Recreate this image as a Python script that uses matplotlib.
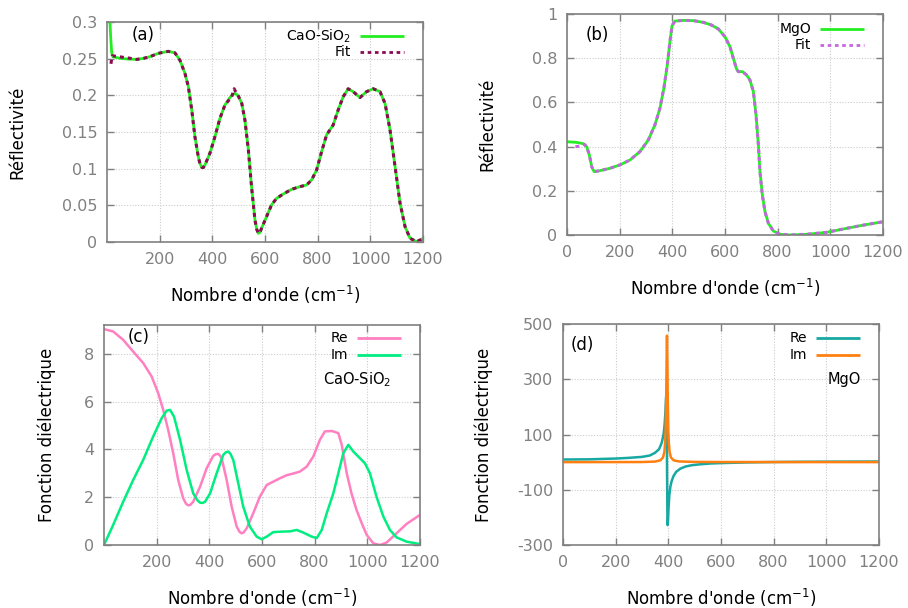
import numpy as np
import matplotlib.pyplot as plt

# (a) CaO-SiO2 reflectivity + fit
a_x = [10, 14, 18, 22, 49, 80, 113, 140, 163, 195, 233, 258, 277, 296, 309, 322, 334, 347, 353, 360, 366, 372,
       391, 410, 429, 448, 467, 476, 486, 492, 499, 512, 524, 537, 549, 562, 569, 575, 581, 587, 606, 625, 644, 670, 701, 733,
       758, 777, 796, 815, 834, 859, 878, 897, 916, 935, 961, 986, 1011, 1037, 1056, 1075, 1094, 1113, 1132, 1151,
       1176, 1195, 1200]
a_r = [0.31, 0.28, 0.258, 0.2527, 0.2505, 0.2495, 0.249, 0.2505, 0.2527, 0.2573, 0.260, 0.258, 0.248, 0.230, 0.212, 0.180, 0.1436, 0.116, 0.107, 0.1018, 0.1015, 0.105,
       0.121, 0.1436, 0.1686, 0.1868, 0.197, 0.2005, 0.2027, 0.2015, 0.199, 0.189, 0.166, 0.1255, 0.0755, 0.030, 0.017, 0.0118, 0.013, 0.0186, 0.0345, 0.0505, 0.0595, 0.0655, 0.0718, 0.0755,
       0.0777, 0.0845, 0.098, 0.123, 0.146, 0.1595, 0.180, 0.198, 0.209, 0.205, 0.197, 0.205, 0.209, 0.205, 0.189, 0.153, 0.103, 0.053, 0.021, 0.005,
       0.0005, 0.0036, 0.005]
a_fit_x = [15, 20, 30, 49, 80, 113, 140, 163, 195, 233, 258, 277, 296, 309, 322, 334, 347, 353, 360, 366, 372, 391,
           410, 429, 448, 462, 472, 478, 483, 490, 499, 512, 524, 537, 549, 562, 569, 575, 581, 587, 606, 625, 644, 670,
           701, 733, 758, 777, 796, 815, 834, 859, 878, 897, 916, 935, 961, 986, 1011, 1037, 1056, 1075, 1094, 1113,
           1132, 1151, 1176, 1195, 1200]
a_fit = [0.243, 0.254, 0.2535, 0.2525, 0.251, 0.249, 0.2505, 0.2527, 0.2573, 0.260, 0.258, 0.248, 0.230, 0.212, 0.180, 0.1436, 0.116, 0.107, 0.1018, 0.1015, 0.105, 0.121,
         0.1436, 0.1686, 0.1868, 0.193, 0.196, 0.203, 0.209, 0.204, 0.199, 0.189, 0.166, 0.1255, 0.0755, 0.030, 0.017, 0.0118, 0.013, 0.0186, 0.0345, 0.0505, 0.0595, 0.0655,
         0.0718, 0.0755, 0.0777, 0.0845, 0.098, 0.123, 0.146, 0.1595, 0.180, 0.198, 0.209, 0.205, 0.197, 0.205, 0.209, 0.205, 0.189, 0.153, 0.103, 0.053,
         0.021, 0.005, 0.0005, 0.0036, 0.005]

# (b) MgO reflectivity + fit
b_x = [0, 37, 62, 75, 85, 94, 103, 125, 163, 201, 239, 277, 309, 334, 353, 368, 381, 391, 399, 410,
       442, 480, 518, 549, 575, 600, 619, 632, 644, 651, 667, 682, 695, 708, 718, 727, 733, 742, 752, 765,
       784, 809, 847, 910, 986, 1049, 1113, 1200]
b_r = [0.422, 0.419, 0.413, 0.40, 0.362, 0.309, 0.2866, 0.291, 0.3017, 0.317, 0.339, 0.377, 0.43, 0.498, 0.573, 0.664, 0.769, 0.875, 0.947, 0.968,
       0.971, 0.97, 0.962, 0.950, 0.932, 0.897, 0.852, 0.799, 0.751, 0.739, 0.739, 0.724, 0.701, 0.649, 0.543, 0.407, 0.2866, 0.181, 0.1056, 0.0528,
       0.018, 0.003, 0.0, 0.003, 0.012, 0.027, 0.042, 0.060]
b_fit_x = [32, 45, 56, 66] + b_x[3:]
b_fit = [0.40, 0.401, 0.403, 0.41] + b_r[3:]

# (c) CaO-SiO2 dielectric function
c_x_re = [0, 35, 73, 111, 149, 181, 206, 225, 244, 263, 282, 301, 312, 320, 328, 339, 365, 390, 415, 425, 434, 440, 447, 466,
          485, 504, 515, 523, 530, 542, 567, 592, 618, 643, 668, 694, 719, 744, 770, 795, 820, 839, 865, 890, 903, 922,
          940, 959, 979, 998, 1023, 1048, 1073, 1111, 1149, 1200]
c_re = [9.03, 8.93, 8.58, 8.09, 7.61, 7.05, 6.35, 5.65, 4.81, 3.84, 2.72, 1.95, 1.72, 1.66, 1.68, 1.81, 2.44, 3.21, 3.73, 3.80, 3.81, 3.75, 3.63, 2.72,
        1.6, 0.77, 0.55, 0.49, 0.52, 0.70, 1.33, 2.02, 2.51, 2.65, 2.79, 2.92, 2.99, 3.07, 3.28, 3.70, 4.40, 4.75, 4.77, 4.68, 4.19, 3.0,
        2.16, 1.47, 0.91, 0.42, 0.07, 0.0, 0.1, 0.49, 0.88, 1.26]
c_x_im = [0, 35, 73, 111, 149, 187, 219, 238, 251, 266, 289, 314, 339, 355, 365, 375, 384, 403, 428, 453, 463, 472, 480, 491,
          510, 529, 554, 580, 599, 618, 643, 675, 706, 732, 757, 789, 808, 827, 846, 871, 890, 909, 928, 947,
          972, 991, 1010, 1035, 1061, 1086, 1111, 1149, 1200]
c_im = [0, 0.84, 1.81, 2.72, 3.56, 4.54, 5.30, 5.62, 5.65, 5.37, 4.40, 3.14, 2.16, 1.87, 1.77, 1.76, 1.81, 2.16, 3.0, 3.77, 3.88, 3.91, 3.82, 3.56,
        2.58, 1.6, 0.77, 0.35, 0.24, 0.35, 0.54, 0.56, 0.57, 0.63, 0.52, 0.35, 0.29, 0.63, 1.33, 2.16, 3.0, 3.84, 4.19, 3.91,
        3.63, 3.42, 3.0, 2.02, 1.19, 0.63, 0.32, 0.14, 0.04]

# (d) MgO dielectric function
d_x_re = [0, 100, 200, 250, 300, 330, 350, 365, 375, 382, 386, 389, 391, 392.5, 393.5, 394.5, 395.5, 396.5, 397.5, 399,
          401, 404, 408, 413, 420, 430, 445, 465, 490, 520, 560, 600, 700, 800, 900, 1000, 1100, 1200]
d_re = [9.5, 10.2, 13, 15.5, 19, 24, 34, 47, 70, 100, 135, 180, 225, 245, 200, 80, -60, -180, -228, -210,
        -165, -120, -88, -68, -50, -35, -24, -16, -11, -8, -5, -3.5, -1, 0.5, 1.2, 1.7, 2, 2.2]
d_x_im = [0, 200, 300, 350, 370, 380, 385, 388, 390, 392, 393.5, 395, 396.5, 398, 400, 402, 405, 410, 420, 440,
          500, 600, 800, 1200]
d_im = [0, 0.2, 0.4, 2, 6.7, 17, 37, 70, 118, 224, 364, 458, 364, 224, 118, 70, 37, 17, 6.7, 2.5,
        0.8, 0.4, 0.2, 0.1]

x_ticks_ac = [200, 400, 600, 800, 1000, 1200]
x_ticks_bd = [0, 200, 400, 600, 800, 1000, 1200]
a_yticks = [0, 0.05, 0.1, 0.15, 0.2, 0.25, 0.3]
a_ylabels = ['0', '0.05', '0.1', '0.15', '0.2', '0.25', '0.3']
b_yticks = [0, 0.2, 0.4, 0.6, 0.8, 1]
b_ylabels = ['0', '0.2', '0.4', '0.6', '0.8', '1']
c_yticks = [0, 2, 4, 6, 8]
d_yticks = [-300, -100, 100, 300, 500]

GRAY = '#808080'
XLAB = "Nombre d'onde (cm$^{-1}$)"
plt.rcParams['font.family'] = 'DejaVu Sans'
plt.rcParams['mathtext.default'] = 'regular'

fig = plt.figure(figsize=(9.08, 6.08), dpi=100)
ax_a = fig.add_axes([0.1178, 0.602, 0.348, 0.3618])
ax_b = fig.add_axes([0.6244, 0.6135, 0.348, 0.3635])
ax_c = fig.add_axes([0.1145, 0.1036, 0.348, 0.3618])
ax_d = fig.add_axes([0.6200, 0.1036, 0.348, 0.3635])


def style(ax, xticks, yticks, ylabels, ylim, ylabel, ylab_x):
    ax.set_xlim(0, 1200)
    ax.set_ylim(*ylim)
    ax.set_xticks(xticks)
    ax.set_yticks(yticks)
    ax.set_yticklabels(ylabels)
    ax.tick_params(direction='in', top=True, right=True, length=5, width=1,
                   color=GRAY, labelcolor=GRAY, labelsize=11.5, pad=7)
    for s in ax.spines.values():
        s.set_color(GRAY)
        s.set_linewidth(1.2)
    ax.grid(True, color='#cccccc', linestyle=(0, (1, 1.5)), linewidth=0.8)
    ax.set_axisbelow(True)
    ax.set_xlabel(XLAB, fontsize=12)
    ax.xaxis.set_label_coords(0.5, -0.19)
    ax.set_ylabel(ylabel, fontsize=12)
    ax.yaxis.set_label_coords(ylab_x, 0.5)


def key(ax, label, y, color, ls='-'):
    ax.text(0.772, y, label, transform=ax.transAxes, ha='right', va='center', fontsize=10)
    ax.plot([0.80, 0.94], [y, y], transform=ax.transAxes, color=color, lw=2, ls=ls,
            solid_capstyle='butt', clip_on=False)


# (a)
ax_a.plot(a_x, a_r, color='#22ee22', lw=2)
ax_a.plot(a_fit_x, a_fit, color='#8b0a50', lw=2.2, ls=(0, (1.3, 1.3)))
style(ax_a, x_ticks_ac, a_yticks, a_ylabels, (0, 0.3), 'Réflectivité', -0.256)
ax_a.text(0.079, 0.94, '(a)', transform=ax_a.transAxes, ha='left', va='center', fontsize=12)
key(ax_a, 'CaO-SiO$_2$', 0.935, '#22ee22')
key(ax_a, 'Fit', 0.862, '#8b0a50', (0, (1.3, 1.3)))

# (b)
ax_b.plot(b_x, b_r, color='#22ee22', lw=2)
ax_b.plot(b_fit_x, b_fit, color='#c466e0', lw=2.2, ls=(0, (1.3, 1.3)))
style(ax_b, x_ticks_bd, b_yticks, b_ylabels, (0, 1), 'Réflectivité', -0.222)
ax_b.text(0.06, 0.905, '(b)', transform=ax_b.transAxes, ha='left', va='center', fontsize=12)
key(ax_b, 'MgO', 0.93, '#22ee22')
key(ax_b, 'Fit', 0.858, '#c466e0', (0, (1.3, 1.3)))

# (c)
ax_c.plot(c_x_re, c_re, color='#ff80c0', lw=1.8)
ax_c.plot(c_x_im, c_im, color='#00ee80', lw=1.8)
style(ax_c, x_ticks_ac, c_yticks, [str(v) for v in c_yticks], (0, 9.2), 'Fonction diélectrique', -0.152)
ax_c.text(0.076, 0.945, '(c)', transform=ax_c.transAxes, ha='left', va='center', fontsize=12)
key(ax_c, 'Re', 0.941, '#ff80c0')
key(ax_c, 'Im', 0.864, '#00ee80')
ax_c.text(0.693, 0.75, 'CaO-SiO$_2$', transform=ax_c.transAxes, ha='left', va='center', fontsize=10.5)

# (d)
ax_d.plot(d_x_re, d_re, color='#17a8a2', lw=1.8)
ax_d.plot(d_x_im, d_im, color='#ff8010', lw=1.8)
style(ax_d, x_ticks_bd, d_yticks, [str(v) for v in d_yticks], (-300, 500), 'Fonction diélectrique', -0.222)
ax_d.text(0.025, 0.905, '(d)', transform=ax_d.transAxes, ha='left', va='center', fontsize=12)
key(ax_d, 'Re', 0.937, '#17a8a2')
key(ax_d, 'Im', 0.86, '#ff8010')
ax_d.text(0.943, 0.75, 'MgO', transform=ax_d.transAxes, ha='right', va='center', fontsize=10.5)

fig.savefig('out.png', dpi=100)
